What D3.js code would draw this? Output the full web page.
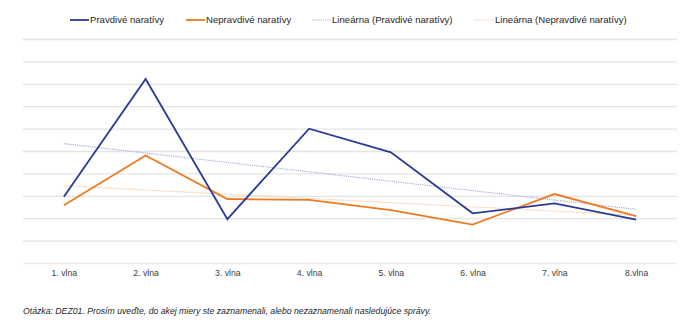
<!DOCTYPE html>
<html>
<head>
<meta charset="utf-8">
<script src="https://cdn.jsdelivr.net/npm/d3@7"></script>
<style>
  html, body { margin: 0; padding: 0; background: #fff; }
  svg { display: block; font-family: "Liberation Sans", Arial, sans-serif; }
</style>
</head>
<body>
<svg id="chart" width="697" height="334"></svg>
<script>
// Waves of the survey
const waves = ["1. vlna", "2. vlna", "3. vlna", "4. vlna", "5. vlna", "6. vlna", "7. vlna", "8.vlna"];
// Share of respondents (%) who noticed true / false narratives
const pravdive = [14.9, 41.2, 9.9, 30.1, 24.8, 11.2, 13.4, 9.8];
const nepravdive = [13.0, 24.1, 14.4, 14.2, 11.9, 8.7, 15.5, 10.6];
const gridTicks = [0, 5, 10, 15, 20, 25, 30, 35, 40, 45, 50];
const seriesNames = ["Pravdivé naratívy", "Nepravdivé naratívy", "Lineárna (Pravdivé naratívy)", "Lineárna (Nepravdivé naratívy)"];
const note = "Otázka: DEZ01. Prosím uveďte, do akej miery ste zaznamenali, alebo nezaznamenali nasledujúce správy.";

const colors = { blue: "#2b3a94", orange: "#ef7a22", blueTrend: "#a9b1d9", orangeTrend: "#f8c9a2" };

const svg = d3.select("#chart");
const margin = { left: 23, right: 20, top: 39.5, bottom: 70.5 };
const W = 697, H = 334;

const x = d3.scalePoint().domain(waves).range([margin.left, W - margin.right]).padding(0.5);
const y = d3.scaleLinear().domain([0, 50]).range([H - margin.bottom, margin.top]);

// horizontal gridlines
svg.append("g")
  .selectAll("line")
  .data(gridTicks)
  .join("line")
  .attr("x1", margin.left).attr("x2", W - margin.right)
  .attr("y1", d => y(d)).attr("y2", d => y(d))
  .attr("stroke", (d, i) => i === 0 ? "#ececec" : "#e4e4e4")
  .attr("stroke-width", 1.3);

// category axis labels
const xAxis = d3.axisBottom(x).tickSize(0).tickPadding(6);
const gx = svg.append("g").attr("transform", `translate(0,${y(0)})`).call(xAxis);
gx.select(".domain").remove();
gx.selectAll("text").attr("font-size", 8.7).attr("fill", "#404040")
  .attr("font-family", "Liberation Sans, Arial, sans-serif");

// least-squares linear trend
function trend(vals) {
  const xs = vals.map((_, i) => i + 1);
  const mx = d3.mean(xs), my = d3.mean(vals);
  const sxy = d3.sum(xs, (xi, i) => (xi - mx) * (vals[i] - my));
  const sxx = d3.sum(xs, xi => (xi - mx) ** 2);
  const b = sxy / sxx, a = my - b * mx;
  return xs.map(xi => a + b * xi);
}

const line = d3.line().x((d, i) => x(waves[i])).y(d => y(d));

svg.append("path").datum(trend(pravdive)).attr("d", line)
  .attr("fill", "none").attr("stroke", colors.blueTrend).attr("stroke-width", 1.2)
  .attr("stroke-dasharray", "1.2,1");
svg.append("path").datum(trend(nepravdive)).attr("d", line)
  .attr("fill", "none").attr("stroke", colors.orangeTrend).attr("stroke-width", 1.2)
  .attr("stroke-dasharray", "1.2,1");

svg.append("path").datum(nepravdive).attr("d", line)
  .attr("fill", "none").attr("stroke", colors.orange).attr("stroke-width", 1.8)
  .attr("stroke-linejoin", "miter");
svg.append("path").datum(pravdive).attr("d", line)
  .attr("fill", "none").attr("stroke", colors.blue).attr("stroke-width", 1.8)
  .attr("stroke-linejoin", "miter");

// legend
const legendItems = [
  { name: seriesNames[0], color: colors.blue, dash: null, x: 70 },
  { name: seriesNames[1], color: colors.orange, dash: null, x: 186 },
  { name: seriesNames[2], color: colors.blueTrend, dash: "1.2,1", x: 312 },
  { name: seriesNames[3], color: colors.orangeTrend, dash: "1.2,1", x: 475 }
];
const lg = svg.append("g").selectAll("g").data(legendItems).join("g")
  .attr("transform", d => `translate(${d.x},20)`);
lg.append("line").attr("x1", 0).attr("x2", 19).attr("y1", 0).attr("y2", 0)
  .attr("stroke", d => d.color).attr("stroke-width", d => d.dash ? 1.2 : 1.8)
  .attr("stroke-dasharray", d => d.dash);
lg.append("text").attr("x", 20).attr("y", 0).attr("dy", "0.35em")
  .attr("font-size", 9.6).attr("fill", "#262626").text(d => d.name);

// footnote
svg.append("text").attr("x", 23).attr("y", 311).attr("dy", "0.35em")
  .attr("font-size", 8.7).attr("font-style", "italic").attr("fill", "#262626")
  .text(note);
</script>
</body>
</html>
